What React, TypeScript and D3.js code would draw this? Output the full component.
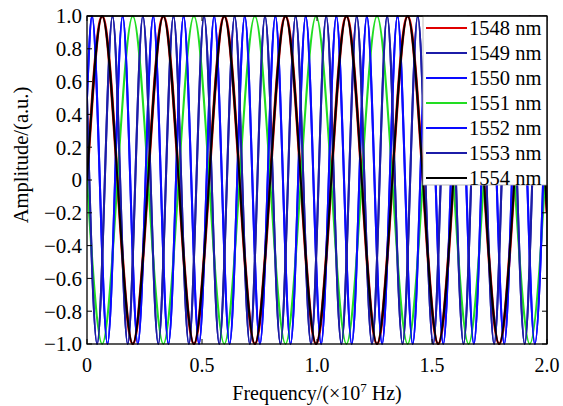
import React, { useEffect, useRef } from 'react';
import * as d3 from 'd3';

// legend entries, in drawing order
const wavelengths = ['1548 nm', '1549 nm', '1550 nm', '1551 nm', '1552 nm', '1553 nm', '1554 nm'];
const colors = ['#e00000', '#1c1ca8', '#0a0aff', '#22dd22', '#0a0aff', '#1c1ca8', '#000000'];
// which of the read curves each wavelength follows (pairs overlap in the picture)
const curveOf = ['slow', 'fastB', 'fastA', 'slowInv', 'fastA', 'fastB', 'slow'];

// x positions (x10^7 Hz) of the peaks/troughs
const slowExtremaX = [0.066, 0.199, 0.332, 0.465, 0.597, 0.730, 0.863, 0.996, 1.128, 1.261, 1.394, 1.527, 1.659, 1.792, 1.925];
const fastAExtremaX = [0.022, 0.089, 0.155, 0.221, 0.288, 0.354, 0.420, 0.487, 0.553, 0.620, 0.686, 0.752, 0.819, 0.885, 0.951,
  1.018, 1.084, 1.151, 1.217, 1.283, 1.350, 1.416, 1.482, 1.549, 1.615, 1.682, 1.748, 1.814, 1.881, 1.947];
const fastBExtremaX = [0.044, 0.111, 0.177, 0.243, 0.310, 0.376, 0.443, 0.509, 0.575, 0.642, 0.708, 0.774, 0.841, 0.907, 0.974,
  1.040, 1.106, 1.173, 1.239, 1.305, 1.372, 1.438, 1.505, 1.571, 1.637, 1.704, 1.770, 1.836, 1.903, 1.969];

// amplitude at x=0, sign of first extremum, amplitude at x=2.0
const curveStart: Record<string, number> = { slow: 0, slowInv: 0, fastA: 0.5, fastB: 0.5 };
const curveFirstSign: Record<string, number> = { slow: 1, slowInv: -1, fastA: 1, fastB: -1 };
const curveEnd: Record<string, number> = { slow: -0.2, slowInv: 0.2, fastA: 0.81, fastB: 0.1 };
const curveExtrema: Record<string, number[]> = { slow: slowExtremaX, slowInv: slowExtremaX, fastA: fastAExtremaX, fastB: fastBExtremaX };

const xTicks = [0, 0.5, 1.0, 1.5, 2.0];
const yTicks = [-1.0, -0.8, -0.6, -0.4, -0.2, 0, 0.2, 0.4, 0.6, 0.8, 1.0];

function buildCurve(name: string): [number, number][] {
  const pts: [number, number][] = [[0, curveStart[name]]];
  curveExtrema[name].forEach((x, i) => {
    pts.push([x, i % 2 === 0 ? curveFirstSign[name] : -curveFirstSign[name]]);
  });
  pts.push([2.0, curveEnd[name]]);
  return pts;
}

const fmtTick = (v: number) => {
  if (v === 0) return '0';
  const s = Math.abs(v).toFixed(1);
  return v < 0 ? '\u2212' + s : s;
};

export default function App() {
  const ref = useRef<SVGSVGElement>(null);

  useEffect(() => {
    const width = 563;
    const height = 406;
    const margin = { left: 87, right: 16, top: 16, bottom: 62 };

    const svg = d3.select(ref.current);
    svg.selectAll('*').remove();

    const x = d3.scaleLinear().domain([0, 2.0]).range([margin.left, width - margin.right]);
    const y = d3.scaleLinear().domain([-1, 1]).range([height - margin.bottom, margin.top]);

    svg.append('defs').append('clipPath').attr('id', 'plotclip')
      .append('rect')
      .attr('x', x(0)).attr('y', y(1) - 1)
      .attr('width', x(2) - x(0)).attr('height', y(-1) - y(1) + 2);

    const line = d3.line<[number, number]>()
      .x(d => x(d[0]))
      .y(d => y(d[1]))
      .curve(d3.curveMonotoneX);

    const g = svg.append('g').attr('clip-path', 'url(#plotclip)');
    wavelengths.forEach((w, i) => {
      g.append('path')
        .attr('d', line(buildCurve(curveOf[i])))
        .attr('fill', 'none')
        .attr('stroke', colors[i])
        .attr('stroke-width', i === 0 ? 2.8 : 2);
    });

    // frame
    svg.append('rect')
      .attr('x', x(0)).attr('y', y(1))
      .attr('width', x(2) - x(0)).attr('height', y(-1) - y(1))
      .attr('fill', 'none').attr('stroke', '#000').attr('stroke-width', 1.3);

    // inward ticks
    const tickLen = 5;
    yTicks.forEach(v => {
      svg.append('line').attr('x1', x(0)).attr('x2', x(0) + tickLen).attr('y1', y(v)).attr('y2', y(v)).attr('stroke', '#000');
      svg.append('line').attr('x1', x(2)).attr('x2', x(2) - tickLen).attr('y1', y(v)).attr('y2', y(v)).attr('stroke', '#000');
    });
    xTicks.forEach(v => {
      svg.append('line').attr('x1', x(v)).attr('x2', x(v)).attr('y1', y(-1)).attr('y2', y(-1) - tickLen).attr('stroke', '#000');
      svg.append('line').attr('x1', x(v)).attr('x2', x(v)).attr('y1', y(1)).attr('y2', y(1) + tickLen).attr('stroke', '#000');
    });

    const font = "'Liberation Serif', 'Times New Roman', serif";

    svg.selectAll('.ytl').data(yTicks).enter().append('text')
      .attr('class', 'ytl')
      .attr('x', x(0) - 5).attr('y', d => y(d))
      .attr('dy', '0.35em')
      .attr('text-anchor', 'end')
      .style('font-family', font).style('font-size', '21px')
      .text(d => fmtTick(d));

    svg.selectAll('.xtl').data(xTicks).enter().append('text')
      .attr('class', 'xtl')
      .attr('x', d => x(d)).attr('y', y(-1) + 28)
      .attr('text-anchor', 'middle')
      .style('font-family', font).style('font-size', '20px')
      .text(d => (d === 0 ? '0' : d.toFixed(1)));

    const xl = svg.append('text')
      .attr('x', (x(0) + x(2)) / 2).attr('y', 400)
      .attr('text-anchor', 'middle')
      .style('font-family', font).style('font-size', '20px');
    xl.append('tspan').text('Frequency/(\u00d710');
    xl.append('tspan').attr('dy', -8).style('font-size', '13px').text('7');
    xl.append('tspan').attr('dy', 8).text(' Hz)');

    svg.append('text')
      .attr('transform', `translate(28,${(y(1) + y(-1)) / 2 - 25}) rotate(-90)`)
      .attr('text-anchor', 'middle')
      .style('font-family', font).style('font-size', '20.5px')
      .text('Amplitude/(a.u.)');

    // legend
    const lg = svg.append('g');
    lg.append('rect')
      .attr('x', 423).attr('y', y(1))
      .attr('width', x(2) - 423).attr('height', 169)
      .attr('fill', '#fff').attr('stroke', '#aaa').attr('stroke-width', 0.8);
    wavelengths.forEach((w, i) => {
      const cy = 28 + i * 25;
      lg.append('line')
        .attr('x1', 426).attr('x2', 467).attr('y1', cy).attr('y2', cy)
        .attr('stroke', colors[i]).attr('stroke-width', 2);
      lg.append('text')
        .attr('x', 469).attr('y', cy).attr('dy', '0.35em')
        .style('font-family', font).style('font-size', '20.5px')
        .text(w);
    });
    svg.append('line')
      .attr('x1', x(0)).attr('x2', x(2)).attr('y1', y(1)).attr('y2', y(1))
      .attr('stroke', '#000').attr('stroke-width', 1.3);
    svg.append('line')
      .attr('x1', x(2)).attr('x2', x(2)).attr('y1', y(1)).attr('y2', y(-1))
      .attr('stroke', '#000').attr('stroke-width', 1.3);
  }, []);

  return (
    <svg ref={ref} width={563} height={406}
      style={{ position: 'absolute', left: 0, top: 0, background: '#fff' }} />
  );
}
